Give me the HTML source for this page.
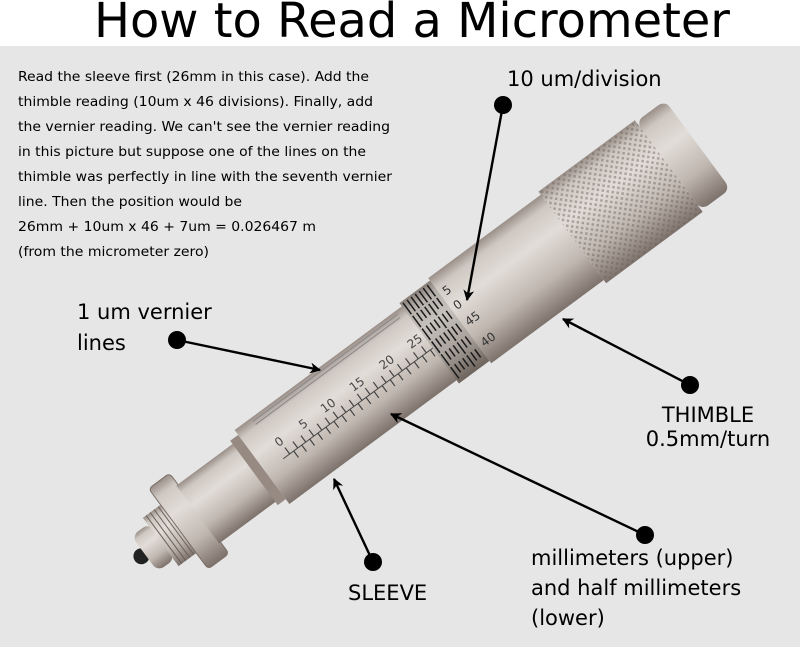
<!DOCTYPE html>
<html><head><meta charset="utf-8"><style>
html,body{margin:0;padding:0;width:800px;height:647px;overflow:hidden;background:#fff}
</style></head><body>
<svg width="800" height="647" viewBox="0 0 800 647" xmlns="http://www.w3.org/2000/svg">
<defs>
<linearGradient id="cyl" x1="0" y1="0" x2="0" y2="1">
<stop offset="0" stop-color="#9a8f88"/><stop offset="0.12" stop-color="#cfc8c2"/><stop offset="0.35" stop-color="#e2ddd8"/><stop offset="0.7" stop-color="#bfb6af"/><stop offset="1" stop-color="#7d726b"/>
</linearGradient>
<pattern id="knurl" width="5" height="5" patternUnits="userSpaceOnUse" patternTransform="rotate(45)">
<rect x="0" y="0" width="2.5" height="2.5" fill="#6a605a" opacity="0.45"/>
</pattern>
<marker id="ah" viewBox="0 0 10 10" refX="9" refY="5" markerWidth="11" markerHeight="11" markerUnits="userSpaceOnUse" orient="auto"><path d="M0,0 L10,5 L0,10 L3,5 z" fill="#000"/></marker>
</defs>
<rect x="0" y="46" width="800" height="601" fill="#e6e6e6"/>
<text x="412" y="37" text-anchor="middle" font-family="DejaVu Sans, sans-serif" font-size="48" fill="#000" textLength="636" lengthAdjust="spacingAndGlyphs">How to Read a Micrometer</text>
<g font-family="DejaVu Sans Condensed, DejaVu Sans, sans-serif" font-size="13" fill="#000">
<text x="18" y="81" textLength="351" lengthAdjust="spacingAndGlyphs">Read the sleeve first (26mm in this case). Add the</text>
<text x="18" y="106" textLength="355" lengthAdjust="spacingAndGlyphs">thimble reading (10um x 46 divisions). Finally, add</text>
<text x="18" y="131" textLength="372" lengthAdjust="spacingAndGlyphs">the vernier reading. We can't see the vernier reading</text>
<text x="18" y="156" textLength="348" lengthAdjust="spacingAndGlyphs">in this picture but suppose one of the lines on the</text>
<text x="18" y="181" textLength="374" lengthAdjust="spacingAndGlyphs">thimble was perfectly in line with the seventh vernier</text>
<text x="18" y="206" textLength="224" lengthAdjust="spacingAndGlyphs">line. Then the position would be</text>
<text x="18" y="231" textLength="298" lengthAdjust="spacingAndGlyphs">26mm + 10um x 46 + 7um = 0.026467 m</text>
<text x="18" y="256" textLength="191" lengthAdjust="spacingAndGlyphs">(from the micrometer zero)</text>
</g>
<g transform="translate(262,467) rotate(-36.5)">
<circle cx="-150" cy="0" r="8" fill="#222"/>
<rect x="-146" y="-22" width="22" height="44" rx="8" fill="url(#cyl)"/>
<rect x="-126" y="-30" width="26" height="60" fill="url(#cyl)"/>
<g stroke="#6a605a" stroke-width="1"><path d="M-122,-30v60M-117,-30v60M-112,-30v60M-107,-30v60"/></g>
<rect x="-104" y="-50" width="26" height="100" rx="4" fill="url(#cyl)" stroke="#7a6f68" stroke-width="1"/>
<rect x="-80" y="-36" width="72" height="72" fill="url(#cyl)"/>
<rect x="-10" y="-40" width="10" height="80" fill="#968a83"/>
<rect x="0" y="-46" width="210" height="92" fill="url(#cyl)"/>
<line x1="22" y1="6" x2="210" y2="6" stroke="#444" stroke-width="1"/>
<g stroke="#444" stroke-width="1.2">
<path d="M30,6v-8M40,6v-8M50,6v-8M60,6v-8M70,6v-8M80,6v-8M90,6v-8M100,6v-8M110,6v-8M120,6v-8M130,6v-8M140,6v-8M150,6v-8M160,6v-8M170,6v-8M180,6v-8M190,6v-8M200,6v-8"/>
<path d="M35,6v8M45,6v8M55,6v8M65,6v8M75,6v8M85,6v8M95,6v8M105,6v8M115,6v8M125,6v8M135,6v8M145,6v8M155,6v8M165,6v8M175,6v8M185,6v8M195,6v8M205,6v8"/>
</g>
<g stroke="#888" stroke-width="1"><path d="M20,-42H200M20,-38H200"/></g>
<g font-family="DejaVu Sans, sans-serif" font-size="12" fill="#444">
<text x="25" y="-6">0</text><text x="55" y="-6">5</text><text x="82" y="-6">10</text><text x="118" y="-6">15</text><text x="155" y="-6">20</text><text x="190" y="-6">25</text>
</g>
<rect x="208" y="-50" width="38" height="100" fill="url(#cyl)"/>
<rect x="208" y="-50" width="38" height="100" fill="#000" opacity="0.12"/>
<g stroke="#1a1a1a" stroke-width="1.5">
<path d="M211,-48v14M216,-48v14M221,-48v14M226,-48v14M231,-48v14M236,-48v14M241,-48v14"/>
<path d="M211,-32v14M216,-32v10M221,-32v10M226,-32v10M231,-32v14M236,-32v10M241,-32v10"/>
<path d="M211,-16v14M216,-16v10M221,-16v10M226,-16v10M231,-16v14M236,-16v10M241,-16v10"/>
<path d="M211,0v14M216,0v10M221,0v10M226,0v10M231,0v14M236,0v10M241,0v10"/>
<path d="M211,16v14M216,16v10M221,16v10M226,16v10M231,16v14M236,16v10M241,16v10"/>
<path d="M211,32v14M216,32v10M221,32v10M226,32v10M231,32v14M236,32v10M241,32v10"/>
</g>
<rect x="246" y="-53" width="140" height="106" fill="url(#cyl)"/>
<g font-family="DejaVu Sans, sans-serif" font-size="12" fill="#333"><text x="250" y="-28">5</text><text x="250" y="-10">0</text><text x="250" y="10">45</text><text x="250" y="36">40</text></g>
<rect x="386" y="-57" width="120" height="114" fill="url(#cyl)"/>
<rect x="386" y="-57" width="120" height="114" fill="url(#knurl)"/>
<rect x="506" y="-55" width="36" height="110" rx="8" fill="url(#cyl)"/>
</g>
<g stroke="#000" stroke-width="2.4" fill="none" marker-end="url(#ah)">
<line x1="503" y1="105" x2="467" y2="300"/>
<line x1="177" y1="340" x2="320" y2="370"/>
<line x1="690" y1="385" x2="563" y2="319"/>
<line x1="373" y1="562" x2="334" y2="479"/>
<line x1="645" y1="535" x2="391" y2="414"/>
</g>
<g fill="#000">
<circle cx="503" cy="105" r="9"/><circle cx="177" cy="340" r="9"/><circle cx="690" cy="385" r="9"/><circle cx="373" cy="562" r="9"/><circle cx="645" cy="535" r="9"/>
</g>
<g font-family="DejaVu Sans, sans-serif" font-size="21" fill="#000">
<text x="507" y="86">10 um/division</text>
<text x="77" y="319">1 um vernier</text>
<text x="77" y="350">lines</text>
<text x="708" y="422" text-anchor="middle">THIMBLE</text>
<text x="708" y="446" text-anchor="middle">0.5mm/turn</text>
<text x="348" y="600">SLEEVE</text>
<text x="531" y="565">millimeters (upper)</text>
<text x="531" y="595">and half millimeters</text>
<text x="531" y="625">(lower)</text>
</g>
</svg>
</body></html>
